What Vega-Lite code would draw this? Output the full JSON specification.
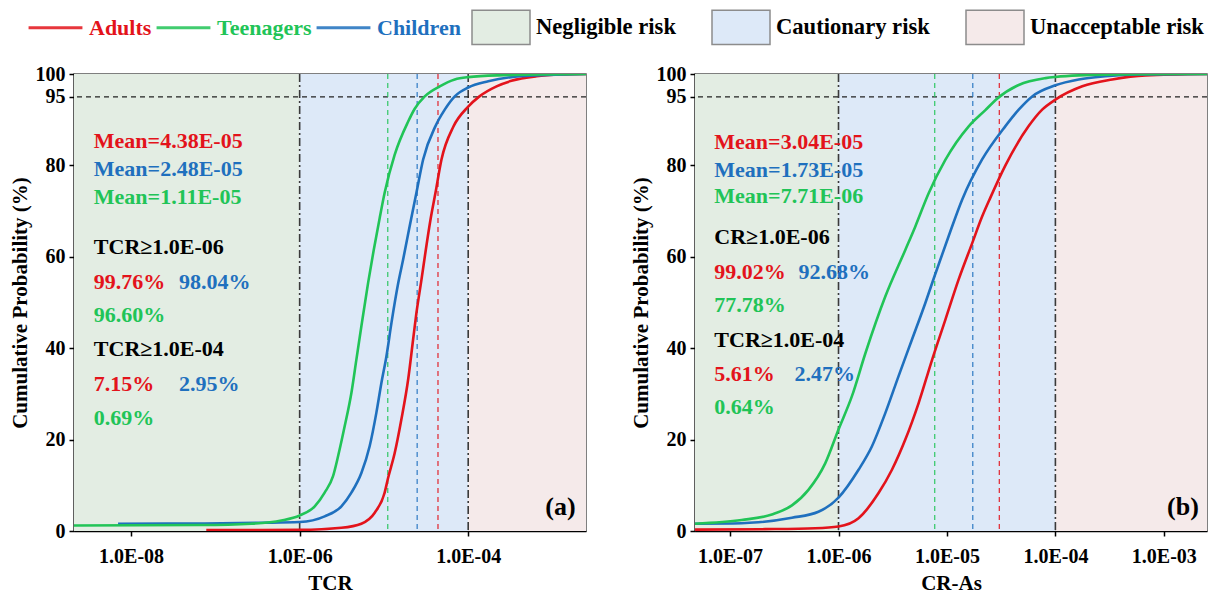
{
  "$schema": "https://vega.github.io/schema/vega-lite/v6.json",
  "padding": {"left": 8, "top": -3, "right": 4, "bottom": 2},
  "background": "white",
  "config": {
    "font": "Liberation Serif",
    "view": {"stroke": "#555555", "strokeWidth": 1.5},
    "axis": {
      "labelFont": "Liberation Serif", "labelFontSize": 20, "labelFontWeight": "bold", "labelColor": "black",
      "titleFont": "Liberation Serif", "titleFontSize": 21, "titleFontWeight": "bold", "titleColor": "black",
      "domainColor": "black", "domainWidth": 1.5, "tickColor": "black", "tickWidth": 1.5, "tickSize": 5,
      "grid": false, "labelOverlap": false
    }
  },
  "datasets": {
    "zones": [
      {"panel": "a", "risk": "Negligible risk", "x0": 2.1e-9, "x1": 1e-6},
      {"panel": "a", "risk": "Cautionary risk", "x0": 1e-6, "x1": 1e-4},
      {"panel": "a", "risk": "Unacceptable risk", "x0": 1e-4, "x1": 2.5e-3},
      {"panel": "b", "risk": "Negligible risk", "x0": 4.75e-8, "x1": 1e-6},
      {"panel": "b", "risk": "Cautionary risk", "x0": 1e-6, "x1": 1e-4},
      {"panel": "b", "risk": "Unacceptable risk", "x0": 1e-4, "x1": 2.5e-3}
    ],
    "thresholds": [{"t": 1e-6}, {"t": 1e-4}],
    "ref95": [{"p": 95}],
    "means": [
      {"panel": "a", "group": "Adults", "mean": 4.38e-5},
      {"panel": "a", "group": "Children", "mean": 2.48e-5},
      {"panel": "a", "group": "Teenagers", "mean": 1.11e-5},
      {"panel": "b", "group": "Adults", "mean": 3.04e-5},
      {"panel": "b", "group": "Children", "mean": 1.73e-5},
      {"panel": "b", "group": "Teenagers", "mean": 7.71e-6}
    ],
    "curves": [
      {"panel": "a", "group": "Adults", "x": 7.8e-8, "p": 0.2},
      {"panel": "a", "group": "Adults", "x": 3.5e-7, "p": 0.2},
      {"panel": "a", "group": "Adults", "x": 1e-6, "p": 0.24},
      {"panel": "a", "group": "Adults", "x": 3.13e-6, "p": 0.7},
      {"panel": "a", "group": "Adults", "x": 5.4e-6, "p": 1.6},
      {"panel": "a", "group": "Adults", "x": 7.78e-6, "p": 4.0},
      {"panel": "a", "group": "Adults", "x": 1.02e-5, "p": 8.4},
      {"panel": "a", "group": "Adults", "x": 1.12e-5, "p": 11.6},
      {"panel": "a", "group": "Adults", "x": 1.34e-5, "p": 17},
      {"panel": "a", "group": "Adults", "x": 1.61e-5, "p": 24.4},
      {"panel": "a", "group": "Adults", "x": 1.94e-5, "p": 33.2},
      {"panel": "a", "group": "Adults", "x": 2.22e-5, "p": 41.9},
      {"panel": "a", "group": "Adults", "x": 2.43e-5, "p": 47.7},
      {"panel": "a", "group": "Adults", "x": 2.79e-5, "p": 55},
      {"panel": "a", "group": "Adults", "x": 3.11e-5, "p": 61},
      {"panel": "a", "group": "Adults", "x": 3.56e-5, "p": 68},
      {"panel": "a", "group": "Adults", "x": 4.09e-5, "p": 74},
      {"panel": "a", "group": "Adults", "x": 4.82e-5, "p": 81.3},
      {"panel": "a", "group": "Adults", "x": 6.68e-5, "p": 88.5},
      {"panel": "a", "group": "Adults", "x": 1e-4, "p": 92.85},
      {"panel": "a", "group": "Adults", "x": 1.36e-4, "p": 95.1},
      {"panel": "a", "group": "Adults", "x": 2.17e-4, "p": 97.3},
      {"panel": "a", "group": "Adults", "x": 3.26e-4, "p": 98.5},
      {"panel": "a", "group": "Adults", "x": 6.48e-4, "p": 99.5},
      {"panel": "a", "group": "Adults", "x": 1.39e-3, "p": 99.9},
      {"panel": "a", "group": "Adults", "x": 2.5e-3, "p": 100},
      {"panel": "a", "group": "Children", "x": 7.0e-9, "p": 1.6},
      {"panel": "a", "group": "Children", "x": 6.8e-8, "p": 1.65},
      {"panel": "a", "group": "Children", "x": 3.5e-7, "p": 1.8},
      {"panel": "a", "group": "Children", "x": 1e-6, "p": 1.96},
      {"panel": "a", "group": "Children", "x": 1.98e-6, "p": 3.2},
      {"panel": "a", "group": "Children", "x": 3.13e-6, "p": 5.4},
      {"panel": "a", "group": "Children", "x": 4.11e-6, "p": 8.4},
      {"panel": "a", "group": "Children", "x": 5.4e-6, "p": 12.7},
      {"panel": "a", "group": "Children", "x": 6.78e-6, "p": 18.6},
      {"panel": "a", "group": "Children", "x": 8.14e-6, "p": 25.9},
      {"panel": "a", "group": "Children", "x": 9.33e-6, "p": 32.4},
      {"panel": "a", "group": "Children", "x": 1.07e-5, "p": 38.2},
      {"panel": "a", "group": "Children", "x": 1.23e-5, "p": 45.6},
      {"panel": "a", "group": "Children", "x": 1.48e-5, "p": 54.3},
      {"panel": "a", "group": "Children", "x": 1.69e-5, "p": 59.4},
      {"panel": "a", "group": "Children", "x": 2.02e-5, "p": 66.7},
      {"panel": "a", "group": "Children", "x": 2.43e-5, "p": 74},
      {"panel": "a", "group": "Children", "x": 2.92e-5, "p": 81.3},
      {"panel": "a", "group": "Children", "x": 4.09e-5, "p": 88.6},
      {"panel": "a", "group": "Children", "x": 5.27e-5, "p": 92.2},
      {"panel": "a", "group": "Children", "x": 6.93e-5, "p": 95.1},
      {"panel": "a", "group": "Children", "x": 1e-4, "p": 97.05},
      {"panel": "a", "group": "Children", "x": 1.73e-4, "p": 98.4},
      {"panel": "a", "group": "Children", "x": 3.57e-4, "p": 99.4},
      {"panel": "a", "group": "Children", "x": 8.91e-4, "p": 99.8},
      {"panel": "a", "group": "Children", "x": 2.5e-3, "p": 100},
      {"panel": "a", "group": "Teenagers", "x": 2.1e-9, "p": 1.2},
      {"panel": "a", "group": "Teenagers", "x": 6.8e-8, "p": 1.3},
      {"panel": "a", "group": "Teenagers", "x": 2.67e-7, "p": 1.6},
      {"panel": "a", "group": "Teenagers", "x": 6.07e-7, "p": 2.3},
      {"panel": "a", "group": "Teenagers", "x": 1e-6, "p": 3.4},
      {"panel": "a", "group": "Teenagers", "x": 1.51e-6, "p": 5.4},
      {"panel": "a", "group": "Teenagers", "x": 1.98e-6, "p": 8.4},
      {"panel": "a", "group": "Teenagers", "x": 2.49e-6, "p": 12},
      {"panel": "a", "group": "Teenagers", "x": 2.86e-6, "p": 16.4},
      {"panel": "a", "group": "Teenagers", "x": 3.42e-6, "p": 22.9},
      {"panel": "a", "group": "Teenagers", "x": 4.11e-6, "p": 30.2},
      {"panel": "a", "group": "Teenagers", "x": 4.71e-6, "p": 37.5},
      {"panel": "a", "group": "Teenagers", "x": 5.4e-6, "p": 44.8},
      {"panel": "a", "group": "Teenagers", "x": 6.49e-6, "p": 54.3},
      {"panel": "a", "group": "Teenagers", "x": 7.57e-6, "p": 61.5},
      {"panel": "a", "group": "Teenagers", "x": 8.91e-6, "p": 68.5},
      {"panel": "a", "group": "Teenagers", "x": 1.02e-5, "p": 74},
      {"panel": "a", "group": "Teenagers", "x": 1.34e-5, "p": 82.3},
      {"panel": "a", "group": "Teenagers", "x": 1.94e-5, "p": 89.6},
      {"panel": "a", "group": "Teenagers", "x": 2.32e-5, "p": 92.4},
      {"panel": "a", "group": "Teenagers", "x": 3.05e-5, "p": 95.1},
      {"panel": "a", "group": "Teenagers", "x": 4.6e-5, "p": 97.3},
      {"panel": "a", "group": "Teenagers", "x": 6.93e-5, "p": 98.8},
      {"panel": "a", "group": "Teenagers", "x": 1e-4, "p": 99.31},
      {"panel": "a", "group": "Teenagers", "x": 2.27e-4, "p": 99.7},
      {"panel": "a", "group": "Teenagers", "x": 2.5e-3, "p": 100},
      {"panel": "b", "group": "Adults", "x": 4.75e-8, "p": 0.3},
      {"panel": "b", "group": "Adults", "x": 2.1e-7, "p": 0.4},
      {"panel": "b", "group": "Adults", "x": 6.09e-7, "p": 0.6},
      {"panel": "b", "group": "Adults", "x": 1e-6, "p": 0.98},
      {"panel": "b", "group": "Adults", "x": 1.53e-6, "p": 2.8},
      {"panel": "b", "group": "Adults", "x": 2.34e-6, "p": 8.3},
      {"panel": "b", "group": "Adults", "x": 3.11e-6, "p": 13.4},
      {"panel": "b", "group": "Adults", "x": 4.13e-6, "p": 20},
      {"panel": "b", "group": "Adults", "x": 5.48e-6, "p": 28},
      {"panel": "b", "group": "Adults", "x": 7.28e-6, "p": 37.4},
      {"panel": "b", "group": "Adults", "x": 9.66e-6, "p": 46.2},
      {"panel": "b", "group": "Adults", "x": 1.28e-5, "p": 55},
      {"panel": "b", "group": "Adults", "x": 1.71e-5, "p": 63},
      {"panel": "b", "group": "Adults", "x": 2.11e-5, "p": 68.8},
      {"panel": "b", "group": "Adults", "x": 2.52e-5, "p": 73},
      {"panel": "b", "group": "Adults", "x": 3.46e-5, "p": 80},
      {"panel": "b", "group": "Adults", "x": 5.67e-5, "p": 88.6},
      {"panel": "b", "group": "Adults", "x": 7.55e-5, "p": 92.2},
      {"panel": "b", "group": "Adults", "x": 1e-4, "p": 94.39},
      {"panel": "b", "group": "Adults", "x": 1.77e-4, "p": 97.3},
      {"panel": "b", "group": "Adults", "x": 3.34e-4, "p": 98.8},
      {"panel": "b", "group": "Adults", "x": 6.79e-4, "p": 99.7},
      {"panel": "b", "group": "Adults", "x": 2.5e-3, "p": 100},
      {"panel": "b", "group": "Children", "x": 4.75e-8, "p": 1.6},
      {"panel": "b", "group": "Children", "x": 1.28e-7, "p": 1.7},
      {"panel": "b", "group": "Children", "x": 1.82e-7, "p": 1.9},
      {"panel": "b", "group": "Children", "x": 3.72e-7, "p": 2.9},
      {"panel": "b", "group": "Children", "x": 6.53e-7, "p": 4.2},
      {"panel": "b", "group": "Children", "x": 1e-6, "p": 7.32},
      {"panel": "b", "group": "Children", "x": 1.53e-6, "p": 13.4},
      {"panel": "b", "group": "Children", "x": 2.03e-6, "p": 18.5},
      {"panel": "b", "group": "Children", "x": 2.7e-6, "p": 25.8},
      {"panel": "b", "group": "Children", "x": 3.58e-6, "p": 33.9},
      {"panel": "b", "group": "Children", "x": 4.76e-6, "p": 41.9},
      {"panel": "b", "group": "Children", "x": 6.32e-6, "p": 49.9},
      {"panel": "b", "group": "Children", "x": 7.82e-6, "p": 56.3},
      {"panel": "b", "group": "Children", "x": 1.04e-5, "p": 64.6},
      {"panel": "b", "group": "Children", "x": 1.38e-5, "p": 72.5},
      {"panel": "b", "group": "Children", "x": 2.11e-5, "p": 81.3},
      {"panel": "b", "group": "Children", "x": 3.46e-5, "p": 88.6},
      {"panel": "b", "group": "Children", "x": 4.59e-5, "p": 92.2},
      {"panel": "b", "group": "Children", "x": 6.11e-5, "p": 95.1},
      {"panel": "b", "group": "Children", "x": 1e-4, "p": 97.53},
      {"panel": "b", "group": "Children", "x": 1.64e-4, "p": 98.8},
      {"panel": "b", "group": "Children", "x": 2.9e-4, "p": 99.5},
      {"panel": "b", "group": "Children", "x": 5.89e-4, "p": 99.9},
      {"panel": "b", "group": "Children", "x": 2.5e-3, "p": 100},
      {"panel": "b", "group": "Teenagers", "x": 4.75e-8, "p": 1.6},
      {"panel": "b", "group": "Teenagers", "x": 1.28e-7, "p": 2.4},
      {"panel": "b", "group": "Teenagers", "x": 2.43e-7, "p": 3.6},
      {"panel": "b", "group": "Teenagers", "x": 3.72e-7, "p": 5.6},
      {"panel": "b", "group": "Teenagers", "x": 5.28e-7, "p": 9.0},
      {"panel": "b", "group": "Teenagers", "x": 7.54e-7, "p": 14.8},
      {"panel": "b", "group": "Teenagers", "x": 1e-6, "p": 22.22},
      {"panel": "b", "group": "Teenagers", "x": 1.33e-6, "p": 29.5},
      {"panel": "b", "group": "Teenagers", "x": 1.77e-6, "p": 38.9},
      {"panel": "b", "group": "Teenagers", "x": 2.7e-6, "p": 51.3},
      {"panel": "b", "group": "Teenagers", "x": 4.13e-6, "p": 61.5},
      {"panel": "b", "group": "Teenagers", "x": 5.1e-6, "p": 66.6},
      {"panel": "b", "group": "Teenagers", "x": 6.78e-6, "p": 73.9},
      {"panel": "b", "group": "Teenagers", "x": 9.66e-6, "p": 81.2},
      {"panel": "b", "group": "Teenagers", "x": 1.58e-5, "p": 88.5},
      {"panel": "b", "group": "Teenagers", "x": 2.26e-5, "p": 92.1},
      {"panel": "b", "group": "Teenagers", "x": 2.9e-5, "p": 94.6},
      {"panel": "b", "group": "Teenagers", "x": 4.59e-5, "p": 97.6},
      {"panel": "b", "group": "Teenagers", "x": 8.11e-5, "p": 99.1},
      {"panel": "b", "group": "Teenagers", "x": 1e-4, "p": 99.36},
      {"panel": "b", "group": "Teenagers", "x": 1.64e-4, "p": 99.7},
      {"panel": "b", "group": "Teenagers", "x": 5.5e-4, "p": 99.95},
      {"panel": "b", "group": "Teenagers", "x": 2.5e-3, "p": 100}
    ],
    "notes": [
      {"panel": "a", "group": "Adults", "x": 3.61e-9, "p": 85.3, "label": "Mean=4.38E-05"},
      {"panel": "a", "group": "Children", "x": 3.61e-9, "p": 79.2, "label": "Mean=2.48E-05"},
      {"panel": "a", "group": "Teenagers", "x": 3.61e-9, "p": 73.1, "label": "Mean=1.11E-05"},
      {"panel": "a", "group": "Adults", "x": 3.61e-9, "p": 54.5, "label": "99.76%"},
      {"panel": "a", "group": "Children", "x": 3.7e-8, "p": 54.5, "label": "98.04%"},
      {"panel": "a", "group": "Teenagers", "x": 3.61e-9, "p": 47.2, "label": "96.60%"},
      {"panel": "a", "group": "Adults", "x": 3.61e-9, "p": 32.1, "label": "7.15%"},
      {"panel": "a", "group": "Children", "x": 3.7e-8, "p": 32.1, "label": "2.95%"},
      {"panel": "a", "group": "Teenagers", "x": 3.61e-9, "p": 24.7, "label": "0.69%"},
      {"panel": "b", "group": "Adults", "x": 7.16e-8, "p": 85.2, "label": "Mean=3.04E-05"},
      {"panel": "b", "group": "Children", "x": 7.16e-8, "p": 79.1, "label": "Mean=1.73E-05"},
      {"panel": "b", "group": "Teenagers", "x": 7.16e-8, "p": 73.2, "label": "Mean=7.71E-06"},
      {"panel": "b", "group": "Adults", "x": 7.16e-8, "p": 56.7, "label": "99.02%"},
      {"panel": "b", "group": "Children", "x": 4.27e-7, "p": 56.7, "label": "92.68%"},
      {"panel": "b", "group": "Teenagers", "x": 7.16e-8, "p": 49.5, "label": "77.78%"},
      {"panel": "b", "group": "Adults", "x": 7.16e-8, "p": 34.4, "label": "5.61%"},
      {"panel": "b", "group": "Children", "x": 3.92e-7, "p": 34.4, "label": "2.47%"},
      {"panel": "b", "group": "Teenagers", "x": 7.16e-8, "p": 27.2, "label": "0.64%"}
    ],
    "heads": [
      {"panel": "a", "x": 3.61e-9, "p": 62.1, "label": "TCR≥1.0E-06"},
      {"panel": "a", "x": 3.61e-9, "p": 39.8, "label": "TCR≥1.0E-04"},
      {"panel": "b", "x": 7.16e-8, "p": 64.4, "label": "CR≥1.0E-06"},
      {"panel": "b", "x": 7.16e-8, "p": 41.9, "label": "TCR≥1.0E-04"}
    ],
    "tags": [
      {"panel": "a", "x": 1.88e-3, "p": 5.3, "label": "(a)"},
      {"panel": "b", "x": 2.1e-3, "p": 5.3, "label": "(b)"}
    ]
  },
  "spacing": 41,
  "hconcat": [
    {
      "width": 512, "height": 457,
      "layer": [
        {
          "data": {"name": "zones"},
          "transform": [{"filter": "datum.panel == 'a'"}],
          "mark": {"type": "rect"},
          "encoding": {
            "x": {"field": "x0", "type": "quantitative"},
            "x2": {"field": "x1"},
            "fill": {"field": "risk", "type": "nominal",
              "scale": {"domain": ["Negligible risk", "Cautionary risk", "Unacceptable risk"], "range": ["#e3ede3", "#dde9f8", "#f5eaea"]},
              "legend": {"orient": "none", "legendX": 397, "legendY": -77, "direction": "horizontal", "title": null,
                "symbolType": "M-1,-0.59H1V0.59H-1Z", "symbolSize": 3364, "symbolStrokeColor": "#8c8c8c", "symbolStrokeWidth": 1.5, "symbolOpacity": 1,
                "labelFont": "Liberation Serif", "labelFontSize": 22.6, "labelFontWeight": "bold", "labelColor": "black", "labelLimit": 300,
                "labelOffset": 5, "columnPadding": 33}}
          }
        },
        {
          "data": {"name": "thresholds"},
          "mark": {"type": "rule", "color": "#3a3a3a", "strokeWidth": 1.6, "strokeDash": [8, 3, 2, 3]},
          "encoding": {"x": {"field": "t", "type": "quantitative"}}
        },
        {
          "data": {"name": "ref95"},
          "mark": {"type": "rule", "color": "#222222", "strokeWidth": 1.3, "strokeDash": [5, 4]},
          "encoding": {"y": {"field": "p", "type": "quantitative"}}
        },
        {
          "data": {"name": "means"},
          "transform": [{"filter": "datum.panel == 'a'"}],
          "mark": {"type": "rule", "strokeWidth": 1.3, "strokeDash": [5, 4], "opacity": 0.85},
          "encoding": {
            "x": {"field": "mean", "type": "quantitative"},
            "color": {"field": "group", "type": "nominal"}
          }
        },
        {
          "data": {"name": "curves"},
          "transform": [{"filter": "datum.panel == 'a'"}],
          "mark": {"type": "line", "strokeWidth": 2.6, "clip": true, "interpolate": "monotone"},
          "encoding": {
            "x": {"field": "x", "type": "quantitative", "title": "TCR",
              "scale": {"type": "log", "domain": [2.1e-9, 2.5e-3], "nice": false},
              "axis": {"values": [1e-8, 1e-6, 1e-4], "labelPadding": 10, "titlePadding": 6,
                "labelExpr": "'1.0E-' + (round(-log(datum.value)/LN10) < 10 ? '0' : '') + round(-log(datum.value)/LN10)"}},
            "y": {"field": "p", "type": "quantitative", "title": "Cumulative Probability (%)",
              "scale": {"domain": [0, 100], "nice": false},
              "axis": {"values": [0, 20, 40, 60, 80, 95, 100], "labelPadding": 4, "titlePadding": 5}},
            "color": {"field": "group", "type": "nominal",
              "scale": {"domain": ["Adults", "Teenagers", "Children"], "range": ["#e3131b", "#21c457", "#1f70be"]},
              "legend": {"orient": "none", "legendX": -47, "legendY": -75, "direction": "horizontal", "title": null,
                "symbolType": "stroke", "symbolSize": 2900, "symbolStrokeWidth": 3,
                "labelFont": "Liberation Serif", "labelFontSize": 22, "labelFontWeight": "bold", "labelLimit": 300,
                "labelColor": {"expr": "datum.value == 'Adults' ? '#e3131b' : datum.value == 'Teenagers' ? '#21c457' : '#1f70be'"},
                "labelOffset": 5, "columnPadding": -2}}
          }
        },
        {
          "data": {"name": "notes"},
          "transform": [{"filter": "datum.panel == 'a'"}],
          "mark": {"type": "text", "align": "left", "baseline": "middle", "font": "Liberation Serif", "fontSize": 22, "fontWeight": "bold"},
          "encoding": {
            "x": {"field": "x", "type": "quantitative"},
            "y": {"field": "p", "type": "quantitative"},
            "text": {"field": "label"},
            "color": {"field": "group", "type": "nominal"}
          }
        },
        {
          "data": {"name": "heads"},
          "transform": [{"filter": "datum.panel == 'a'"}],
          "mark": {"type": "text", "align": "left", "baseline": "middle", "font": "Liberation Serif", "fontSize": 22, "fontWeight": "bold", "color": "black"},
          "encoding": {
            "x": {"field": "x", "type": "quantitative"},
            "y": {"field": "p", "type": "quantitative"},
            "text": {"field": "label"}
          }
        },
        {
          "data": {"name": "tags"},
          "transform": [{"filter": "datum.panel == 'a'"}],
          "mark": {"type": "text", "align": "right", "baseline": "middle", "font": "Liberation Serif", "fontSize": 26, "fontWeight": "bold", "color": "black"},
          "encoding": {
            "x": {"field": "x", "type": "quantitative"},
            "y": {"field": "p", "type": "quantitative"},
            "text": {"field": "label"}
          }
        }
      ]
    },
    {
      "width": 512, "height": 457,
      "layer": [
        {
          "data": {"name": "zones"},
          "transform": [{"filter": "datum.panel == 'b'"}],
          "mark": {"type": "rect"},
          "encoding": {
            "x": {"field": "x0", "type": "quantitative"},
            "x2": {"field": "x1"},
            "fill": {"field": "risk", "type": "nominal",
              "scale": {"domain": ["Negligible risk", "Cautionary risk", "Unacceptable risk"], "range": ["#e3ede3", "#dde9f8", "#f5eaea"]},
              "legend": {"orient": "none", "legendX": 397, "legendY": -77, "direction": "horizontal", "title": null,
                "symbolType": "M-1,-0.59H1V0.59H-1Z", "symbolSize": 3364, "symbolStrokeColor": "#8c8c8c", "symbolStrokeWidth": 1.5, "symbolOpacity": 1,
                "labelFont": "Liberation Serif", "labelFontSize": 22.6, "labelFontWeight": "bold", "labelColor": "black", "labelLimit": 300,
                "labelOffset": 5, "columnPadding": 33}}
          }
        },
        {
          "data": {"name": "thresholds"},
          "mark": {"type": "rule", "color": "#3a3a3a", "strokeWidth": 1.6, "strokeDash": [8, 3, 2, 3]},
          "encoding": {"x": {"field": "t", "type": "quantitative"}}
        },
        {
          "data": {"name": "ref95"},
          "mark": {"type": "rule", "color": "#222222", "strokeWidth": 1.3, "strokeDash": [5, 4]},
          "encoding": {"y": {"field": "p", "type": "quantitative"}}
        },
        {
          "data": {"name": "means"},
          "transform": [{"filter": "datum.panel == 'b'"}],
          "mark": {"type": "rule", "strokeWidth": 1.3, "strokeDash": [5, 4], "opacity": 0.85},
          "encoding": {
            "x": {"field": "mean", "type": "quantitative"},
            "color": {"field": "group", "type": "nominal"}
          }
        },
        {
          "data": {"name": "curves"},
          "transform": [{"filter": "datum.panel == 'b'"}],
          "mark": {"type": "line", "strokeWidth": 2.6, "clip": true, "interpolate": "monotone"},
          "encoding": {
            "x": {"field": "x", "type": "quantitative", "title": "CR-As",
              "scale": {"type": "log", "domain": [4.75e-8, 2.5e-3], "nice": false},
              "axis": {"values": [1e-7, 1e-6, 1e-5, 1e-4, 1e-3], "labelPadding": 10, "titlePadding": 6,
                "labelExpr": "'1.0E-' + (round(-log(datum.value)/LN10) < 10 ? '0' : '') + round(-log(datum.value)/LN10)"}},
            "y": {"field": "p", "type": "quantitative", "title": "Cumulative Probability (%)",
              "scale": {"domain": [0, 100], "nice": false},
              "axis": {"values": [0, 20, 40, 60, 80, 95, 100], "labelPadding": 4, "titlePadding": 5}},
            "color": {"field": "group", "type": "nominal",
              "scale": {"domain": ["Adults", "Teenagers", "Children"], "range": ["#e3131b", "#21c457", "#1f70be"]},
              "legend": {"orient": "none", "legendX": -47, "legendY": -75, "direction": "horizontal", "title": null,
                "symbolType": "stroke", "symbolSize": 2900, "symbolStrokeWidth": 3,
                "labelFont": "Liberation Serif", "labelFontSize": 22, "labelFontWeight": "bold", "labelLimit": 300,
                "labelColor": {"expr": "datum.value == 'Adults' ? '#e3131b' : datum.value == 'Teenagers' ? '#21c457' : '#1f70be'"},
                "labelOffset": 5, "columnPadding": -2}}
          }
        },
        {
          "data": {"name": "notes"},
          "transform": [{"filter": "datum.panel == 'b'"}],
          "mark": {"type": "text", "align": "left", "baseline": "middle", "font": "Liberation Serif", "fontSize": 22, "fontWeight": "bold"},
          "encoding": {
            "x": {"field": "x", "type": "quantitative"},
            "y": {"field": "p", "type": "quantitative"},
            "text": {"field": "label"},
            "color": {"field": "group", "type": "nominal"}
          }
        },
        {
          "data": {"name": "heads"},
          "transform": [{"filter": "datum.panel == 'b'"}],
          "mark": {"type": "text", "align": "left", "baseline": "middle", "font": "Liberation Serif", "fontSize": 22, "fontWeight": "bold", "color": "black"},
          "encoding": {
            "x": {"field": "x", "type": "quantitative"},
            "y": {"field": "p", "type": "quantitative"},
            "text": {"field": "label"}
          }
        },
        {
          "data": {"name": "tags"},
          "transform": [{"filter": "datum.panel == 'b'"}],
          "mark": {"type": "text", "align": "right", "baseline": "middle", "font": "Liberation Serif", "fontSize": 26, "fontWeight": "bold", "color": "black"},
          "encoding": {
            "x": {"field": "x", "type": "quantitative"},
            "y": {"field": "p", "type": "quantitative"},
            "text": {"field": "label"}
          }
        }
      ]
    }
  ]
}
